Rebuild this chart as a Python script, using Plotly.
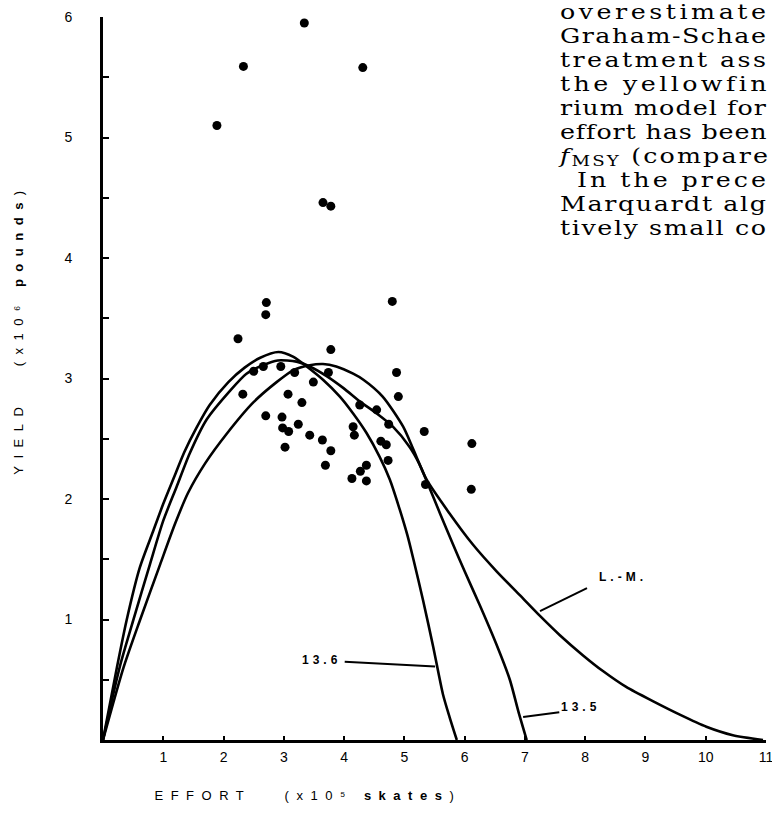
import plotly.graph_objects as go

# ---------------- data ----------------
# observed yield (x10^6 pounds) vs effort (x10^5 skates)
effort_obs = [1.89, 2.33, 3.34, 4.31, 3.65, 3.78,
              2.71, 2.70, 2.24, 4.80, 3.78, 2.50, 2.66, 2.95, 3.18, 3.74,
              3.49, 4.87, 4.90, 2.32, 3.07, 3.30, 4.26, 4.54, 4.74, 2.70,
              2.97, 2.98, 3.08, 3.24, 3.43, 3.64, 3.78, 3.69, 3.02, 4.15,
              4.17, 4.61, 4.70, 4.73, 4.37, 4.27, 4.13, 4.37, 5.33, 5.35,
              6.12, 6.11]
yield_obs = [5.10, 5.59, 5.95, 5.58, 4.46, 4.43,
             3.63, 3.53, 3.33, 3.64, 3.24, 3.06, 3.10, 3.10, 3.05, 3.05,
             2.97, 3.05, 2.85, 2.87, 2.87, 2.80, 2.78, 2.74, 2.62, 2.69,
             2.68, 2.59, 2.56, 2.62, 2.53, 2.49, 2.40, 2.28, 2.43, 2.60,
             2.53, 2.48, 2.45, 2.32, 2.28, 2.23, 2.17, 2.15, 2.56, 2.12,
             2.46, 2.08]

# fitted equilibrium curves
curve_136_effort = [0, 0.23, 0.39, 0.61, 0.83, 1.0, 1.17, 1.35, 1.55, 1.77,
                    2.08, 2.35, 2.6, 2.91, 3.16, 3.38, 3.65, 3.93, 4.15, 4.37,
                    4.59, 4.76, 4.9, 5.05, 5.15, 5.31, 5.48, 5.64, 5.75, 5.87]
curve_136_yield = [0, 0.60, 0.99, 1.43, 1.73, 1.96, 2.17, 2.39, 2.59, 2.78,
                   2.97, 3.09, 3.17, 3.22, 3.18, 3.10, 2.99, 2.85, 2.71, 2.55,
                   2.35, 2.16, 1.95, 1.70, 1.50, 1.16, 0.77, 0.38, 0.19, 0]

curve_135_effort = [0, 0.28, 0.50, 0.78, 1.0, 1.22, 1.44, 1.72, 2.11, 2.38,
                    2.65, 2.9, 3.21, 3.43, 3.71, 3.99, 4.26, 4.54, 4.81, 5.09,
                    5.25, 5.37, 5.6, 5.81, 6.0, 6.25, 6.53, 6.75, 6.89, 7.03]
curve_135_yield = [0, 0.61, 0.99, 1.46, 1.82, 2.10, 2.38, 2.66, 2.90, 3.04,
                   3.11, 3.15, 3.14, 3.10, 3.02, 2.92, 2.81, 2.71, 2.60, 2.43,
                   2.29, 2.15, 1.87, 1.62, 1.40, 1.12, 0.79, 0.50, 0.24, 0]

curve_lm_effort = [0, 0.34, 0.61, 0.95, 1.2, 1.41, 1.7, 2.05, 2.49, 2.88,
                   3.16, 3.43, 3.65, 3.87, 4.15, 4.32, 4.64, 4.98, 5.15, 5.37,
                   5.75, 6.14, 6.53, 6.92, 7.25, 7.58, 7.97, 8.30, 8.68, 9.13,
                   9.57, 10.01, 10.45, 10.95]
curve_lm_yield = [0, 0.60, 0.99, 1.46, 1.80, 2.05, 2.30, 2.54, 2.80, 2.97,
                  3.07, 3.11, 3.12, 3.10, 3.04, 2.99, 2.85, 2.60, 2.41, 2.16,
                  1.88, 1.62, 1.40, 1.20, 1.03, 0.87, 0.70, 0.57, 0.44, 0.32,
                  0.21, 0.11, 0.04, 0]

curve_labels = ["13.6", "13.5", "L.-M."]

x_tick_vals = [1, 2, 3, 4, 5, 6, 7, 8, 9, 10, 11]
x_tick_text = ["1", "2", "3", "4", "5", "6", "7", "8", "9", "10", "11"]
y_tick_vals = [1, 2, 3, 4, 5, 6]
y_tick_text = ["1", "2", "3", "4", "5", "6"]
y_half_tick_vals = [0.5, 1.5, 2.5, 3.5, 4.5, 5.5]

# text of the page beside the figure (cut by the crop)
book_lines = ["overestimate", "Graham-Schae", "treatment ass", "the yellowfin",
              "rium model for", "effort has been",
              "<i>f</i><span style=\"font-size:14px;baseline-shift:-3px\">MSY</span> (compare",
              "In the prece", "Marquardt alg", "tively small co"]

# ---------------- figure ----------------
W, H = 772, 820
ML, MR, MT, MB = 103, 6, 17, 80
PW, PH = W - ML - MR, H - MT - MB


def px_x(p):
    return (p - ML) / PW


def px_y(p):
    return (H - MB - p) / PH


fig = go.Figure()
line_style = dict(color="black", width=2.6, shape="spline", smoothing=0.7)
fig.add_trace(go.Scatter(x=curve_136_effort, y=curve_136_yield, mode="lines",
                         line=line_style, name=curve_labels[0],
                         showlegend=False, hoverinfo="skip"))
fig.add_trace(go.Scatter(x=curve_135_effort, y=curve_135_yield, mode="lines",
                         line=line_style, name=curve_labels[1],
                         showlegend=False, hoverinfo="skip"))
# drawn on the twin y axis that carries the half-unit ticks (same scale)
fig.add_trace(go.Scatter(x=curve_lm_effort, y=curve_lm_yield, mode="lines",
                         line=line_style, name=curve_labels[2], yaxis="y2",
                         showlegend=False, hoverinfo="skip"))

fig.add_trace(go.Scatter(x=effort_obs, y=yield_obs, mode="markers",
                         marker=dict(color="black", size=9, line=dict(width=0)),
                         showlegend=False, cliponaxis=False))

label_font = dict(family="Liberation Sans", size=12, color="black")
# curve labels with leader lines
label_specs = [
    (curve_labels[0], 3.64, 0.66, (4.01, 0.65, 5.51, 0.61)),
    (curve_labels[1], 7.93, 0.27, (6.97, 0.19, 7.57, 0.23)),
    (curve_labels[2], 8.62, 1.35, (7.25, 1.07, 8.03, 1.26)),
]
annotations = []
shapes = []
for txt, lx, ly, (x0, y0, x1, y1) in label_specs:
    annotations.append(dict(x=lx, y=ly, xref="x", yref="y", text="<b>%s</b>" % txt,
                            showarrow=False, font=label_font))
    shapes.append(dict(type="line", xref="x", yref="y", x0=x0, y0=y0, x1=x1, y1=y1,
                       line=dict(color="black", width=2)))

title_font = dict(family="Liberation Sans, DejaVu Sans", size=13, color="black")
nb = "\u00a0"
annotations.append(dict(
    x=px_x(308), y=px_y(795), xref="paper", yref="paper", showarrow=False,
    text="EFFORT" + nb * 3 + "(x10\u2075" + nb + "<b>skates</b>)",
    font=title_font, xanchor="center", yanchor="middle"))
annotations.append(dict(
    x=px_x(18), y=px_y(329), xref="paper", yref="paper", showarrow=False,
    text="YIELD" + nb * 3 + "(x10\u2076" + nb + "<b>pounds</b>)",
    font=title_font, textangle=-90, xanchor="center", yanchor="middle"))

book_font = dict(family="DejaVu Serif", size=19.5, color="black")
for i, line in enumerate(book_lines):
    left = 575 if line.startswith("In ") else 558
    annotations.append(dict(
        x=px_x(left), y=px_y(12 + 24.1 * i), xref="paper", yref="paper",
        showarrow=False, text=line, font=book_font,
        xanchor="left", yanchor="middle"))

fig.update_layout(
    width=W, height=H, autosize=False,
    margin=dict(l=ML, r=MR, t=MT, b=MB, pad=0),
    paper_bgcolor="white", plot_bgcolor="white",
    font=dict(family="Liberation Sans", color="black"),
    annotations=annotations, shapes=shapes,
    xaxis=dict(range=[0, 11], showgrid=False, zeroline=False, automargin=False,
               showline=True, linecolor="black", linewidth=2.5,
               ticks="inside", ticklen=4, tickwidth=2, tickcolor="black",
               tickmode="array", tickvals=x_tick_vals, ticktext=x_tick_text,
               tickfont=dict(size=14, family="Liberation Sans"),
               ticklabelstandoff=2, ticklabeloverflow="allow"),
    yaxis=dict(range=[0, 6], showgrid=False, zeroline=False, automargin=False,
               showline=True, linecolor="black", linewidth=3,
               ticks="inside", ticklen=6, tickwidth=2, tickcolor="black",
               tickmode="array", tickvals=y_tick_vals, ticktext=y_tick_text,
               tickfont=dict(size=14, family="Liberation Sans"),
               ticklabelstandoff=25, ticklabeloverflow="allow"),
    yaxis2=dict(range=[0, 6], overlaying="y", side="left", anchor="x",
                showgrid=False, zeroline=False, automargin=False, showline=False,
                ticks="inside", ticklen=6, tickwidth=2, tickcolor="black",
                tickmode="array", tickvals=y_half_tick_vals,
                showticklabels=False),
)

post_js = """
document.body.style.margin = '0';
document.body.style.padding = '0';
var gd = document.getElementById('{plot_id}');
function styleText(){
  var spec = [['YIELD',7.5],['EFFORT',7.5],['13.6',4],['13.5',4],['L.-M.',4]];
  gd.querySelectorAll('text.annotation-text').forEach(function(t){
    var s = t.textContent;
    var ls = null;
    spec.forEach(function(p){ if (s.indexOf(p[0]) === 0) { ls = p[1]; } });
    if (ls !== null) { t.style.letterSpacing = ls + 'px'; return; }
    // page text: widen the glyphs like the scan and justify to the crop edge
    if (!t.hasAttribute('data-left')) {
      t.style.letterSpacing = '0px';
      var bb = t.getBBox();
      t.setAttribute('data-left', bb.x);
      t.setAttribute('text-anchor', 'start');
      t.setAttribute('x', bb.x);
    }
    var L = parseFloat(t.getAttribute('data-left'));
    t.removeAttribute('transform');
    t.style.letterSpacing = '0px';
    var w0 = t.getComputedTextLength();
    var r0 = t.getBoundingClientRect();
    var target = 766 - r0.left;
    var n = s.length;
    var sx = 1.3;
    if (w0 * sx > target) { sx = target / w0; }
    var sp = (target / sx - w0) / Math.max(n - 1, 1);
    if (sp < 0) { sp = 0; }
    t.style.letterSpacing = sp + 'px';
    t.setAttribute('transform', 'translate(' + L + ',0) scale(' + sx + ',1) translate(' + (-L) + ',0)');
  });
}
styleText();
gd.on('plotly_afterplot', styleText);
"""
fig.write_html("out.html", post_script=post_js,
               config={"displayModeBar": False, "responsive": False})
